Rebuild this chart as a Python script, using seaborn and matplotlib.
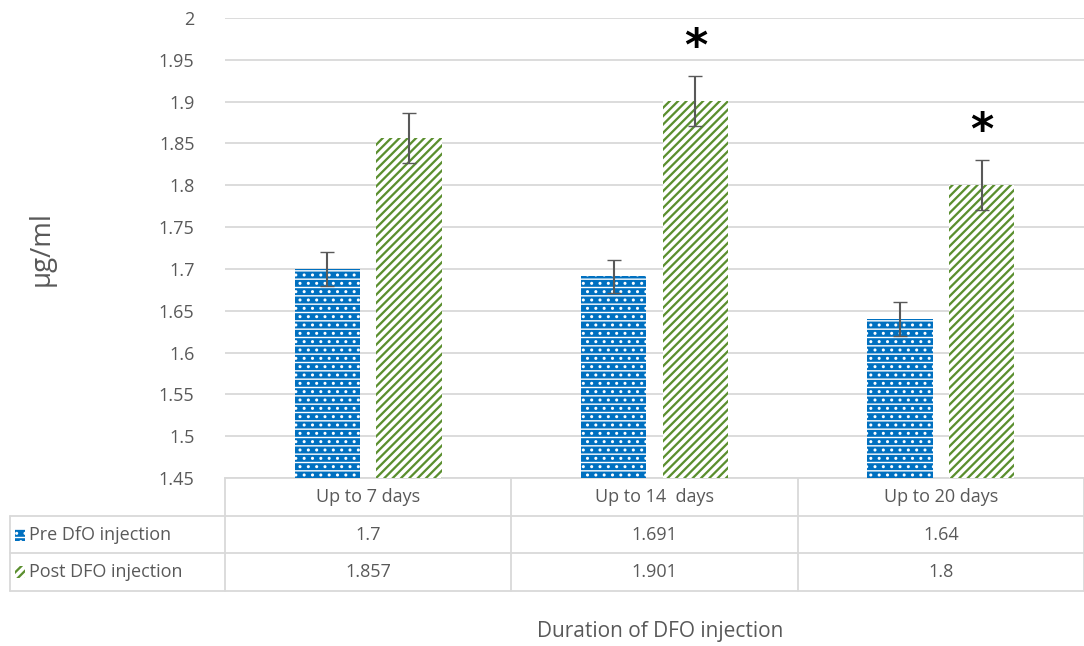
import pandas as pd
import seaborn as sns
import matplotlib.pyplot as plt
from matplotlib.patches import Rectangle

# data
categories = ["Up to 7 days", "Up to 14  days", "Up to 20 days"]
series = ["Pre DfO injection", "Post DFO injection"]
pre_vals = [1.7, 1.691, 1.64]
post_vals = [1.857, 1.901, 1.8]
pre_err = [0.02, 0.02, 0.02]
post_err = [0.03, 0.03, 0.03]
star_cats = [1, 2]  # categories marked significant

df = pd.DataFrame({
    "cat": categories * 2,
    "series": [series[0]] * 3 + [series[1]] * 3,
    "val": pre_vals + post_vals,
})

sns.set_style("white")
plt.rcParams["font.family"] = ["Open Sans", "DejaVu Sans"]
plt.rcParams["hatch.linewidth"] = 2.6
txt = "#595959"
grid = "#d9d9d9"
blue = "#0070c0"
green = "#5b8f2f"
h_pre = "--.."
h_post = "////"


def style_patch(p, h, lw):
    p.set_hatch(h)
    p.set_edgecolor("white")
    p.set_linewidth(0)
    if hasattr(p, "set_hatch_linewidth"):
        p.set_hatch_linewidth(lw)


fig = plt.figure(figsize=(10.84, 6.46), dpi=100)
ax = fig.add_axes([225 / 1084, 1 - 478 / 646, 859 / 1084, 460 / 646])

sns.barplot(data=df, x="cat", y="val", hue="series", palette=[blue, green],
            saturation=1, width=0.57, gap=0.2, ax=ax, legend=False, zorder=3)

# hatches and error bars
errs = pre_err + post_err
hatches = [h_pre] * 3 + [h_post] * 3
hlws = [1.0] * 3 + [2.6] * 3
for bar, h, hl, e, v in zip(ax.patches, hatches, hlws, errs, pre_vals + post_vals):
    style_patch(bar, h, hl)
    cx = bar.get_x() + bar.get_width() / 2
    ax.errorbar(cx, v, yerr=e, color="#595959", capsize=5, lw=1.5, zorder=4)

# significance stars above post bars
post_bars = ax.patches[3:6]
for i in star_cats:
    b = post_bars[i]
    ax.text(b.get_x() + b.get_width() / 2, post_vals[i] + post_err[i] + 0.034, "*",
            ha="center", va="center", fontsize=32, fontweight="bold", color="black",
            family="DejaVu Sans")

ax.set_ylim(1.45, 2.0)
ax.set_yticks([1.45 + 0.05 * i for i in range(12)])
ax.set_yticklabels(["1.45", "1.5", "1.55", "1.6", "1.65", "1.7", "1.75",
                    "1.8", "1.85", "1.9", "1.95", "2"])
ax.tick_params(axis="y", labelsize=13, colors=txt, length=0, pad=22)
ax.set_xticks([])
ax.set_xlabel("")
ax.set_ylabel("µg/ml", fontsize=20, color=txt, labelpad=74)
ax.set_xlim(-0.5, 2.5)
ax.grid(axis="y", color=grid, lw=1.3, zorder=0)
for s in ["top", "right", "left"]:
    ax.spines[s].set_visible(False)
ax.spines["bottom"].set_color(grid)
ax.spines["bottom"].set_linewidth(1.3)

# data table below the axes
rh = 37.7 / 460
left = -215 / 859
tr = ax.transAxes
kw = dict(transform=tr, color=grid, lw=1.3, clip_on=False)
for k in range(1, 4):
    ax.plot([left, 1], [-k * rh, -k * rh], **kw)
ax.plot([left, left], [-rh, -3 * rh], **kw)
for k in range(4):
    ax.plot([k / 3, k / 3], [0, -3 * rh], **kw)

for j, c in enumerate(categories):
    ax.text((j + 0.5) / 3, -0.5 * rh, c, transform=tr, ha="center", va="center",
            fontsize=13, color=txt)
    ax.text((j + 0.5) / 3, -1.5 * rh, f"{pre_vals[j]:g}", transform=tr,
            ha="center", va="center", fontsize=13, color=txt)
    ax.text((j + 0.5) / 3, -2.5 * rh, f"{post_vals[j]:g}", transform=tr,
            ha="center", va="center", fontsize=13, color=txt)

for r, (name, col, h, hl) in enumerate(zip(series, [blue, green], [h_pre, h_post], [1.0, 2.6])):
    y = -(r + 1.5) * rh
    sq = Rectangle((left + 0.006, y - 0.013), 0.011, 0.026, transform=tr,
                   facecolor=col, clip_on=False)
    style_patch(sq, h, hl)
    ax.add_patch(sq)
    ax.text(left + 0.022, y, name, transform=tr, ha="left", va="center",
            fontsize=13, color=txt)

fig.text(660 / 1084, 1 - 632 / 646, "Duration of DFO injection", ha="center",
         va="center", fontsize=15, color=txt)

fig.savefig("out.png", dpi=100)
